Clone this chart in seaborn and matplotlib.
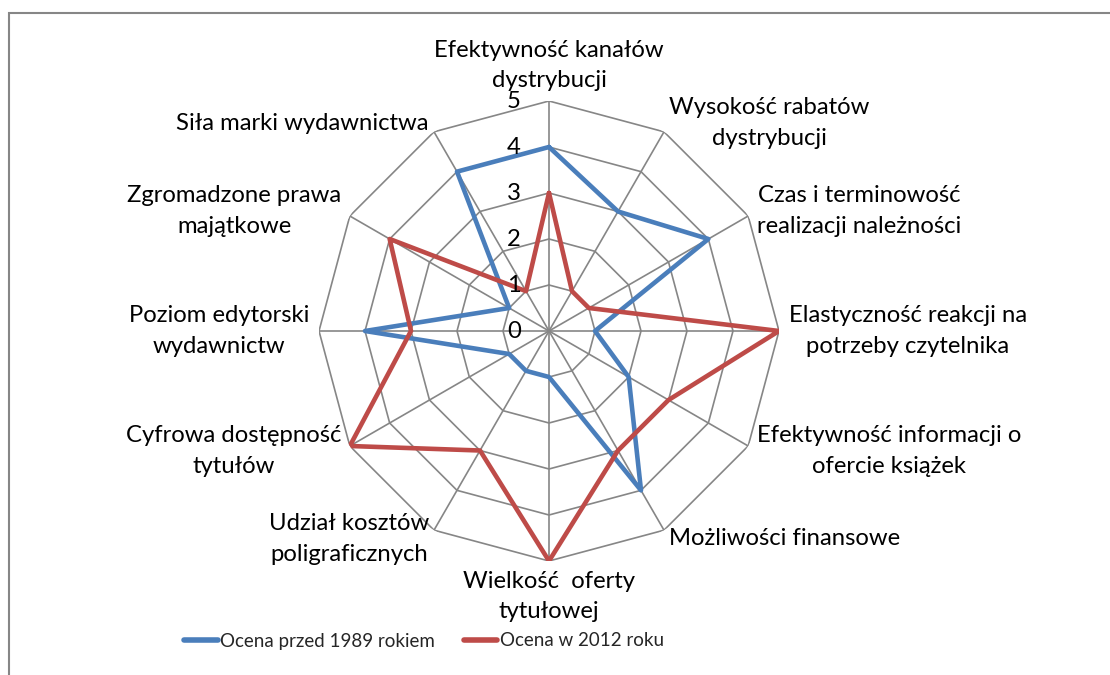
import numpy as np
import pandas as pd
import matplotlib
matplotlib.use("Agg")
import matplotlib.pyplot as plt
from matplotlib.patches import Rectangle
import seaborn as sns

categories = [
    "Efektywność kanałów\ndystrybucji",
    "Wysokość rabatów\ndystrybucji",
    "Czas i terminowość\nrealizacji należności",
    "Elastyczność reakcji na\npotrzeby czytelnika",
    "Efektywność informacji o\nofercie książek",
    "Możliwości finansowe",
    "Wielkość  oferty\ntytułowej",
    "Udział kosztów\npoligraficznych",
    "Cyfrowa dostępność\ntytułów",
    "Poziom edytorski\nwydawnictw",
    "Zgromadzone prawa\nmajątkowe",
    "Siła marki wydawnictwa",
]
series_names = ["Ocena przed 1989 rokiem", "Ocena w 2012 roku"]
before_1989 = [4, 3, 4, 1, 2, 4, 1, 1, 1, 4, 1, 4]
in_2012 = [3, 1, 1, 5, 3, 3, 5, 3, 5, 3, 4, 1]
r_ticks = [0, 1, 2, 3, 4, 5]

colors = {"Ocena przed 1989 rokiem": "#4A7EBB", "Ocena w 2012 roku": "#BE4B48"}
grid_color = "#868686"

sns.set_theme(style="white")
plt.rcParams["font.family"] = ["Lato", "DejaVu Sans"]
FS = 17.2
LEG_FS = 13.5

n = len(categories)
thetas = np.linspace(0, 2 * np.pi, n, endpoint=False)

rows = []
for name, vals in zip(series_names, [before_1989, in_2012]):
    for i in range(n + 1):
        rows.append({"theta": (thetas[i % n] if i < n else 2 * np.pi),
                     "value": vals[i % n], "series": name, "order": i})
df = pd.DataFrame(rows)

fig = plt.figure(figsize=(11.1, 6.75), dpi=100)
ax = fig.add_axes([(549 - 230) / 1110, (675 - 331 - 230) / 675, 460 / 1110, 460 / 675],
                  projection="polar")
ax.set_theta_zero_location("N")
ax.set_theta_direction(-1)

# polygon grid
closed = np.append(thetas, thetas[0])
for r in r_ticks[1:]:
    ax.plot(closed, [r] * (n + 1), color=grid_color, lw=1.2, zorder=1)
for t in thetas:
    ax.plot([t, t], [0, r_ticks[-1]], color=grid_color, lw=1.2, zorder=1)

sns.lineplot(data=df, x="theta", y="value", hue="series", sort=False, estimator=None,
             palette=colors, linewidth=3.3, ax=ax, zorder=3)

ax.set_ylim(0, 5)
ax.axis("off")

# tick labels
for r in r_ticks:
    ax.annotate(str(r), xy=(0, r), xytext=(-28, 0), textcoords="offset pixels",
                ha="right", va="center", fontsize=FS, color="black")

# category labels
off = 10
for t, lab in zip(thetas, categories):
    s, c = np.sin(t), np.cos(t)
    if abs(s) < 1e-6:
        ha = "center"
        va = "bottom" if c > 0 else "top"
    else:
        ha = "left" if s > 0 else "right"
        va = "center"
    ax.annotate(lab, xy=(t, 5), xytext=(off * s, off * c), textcoords="offset pixels",
                ha=ha, va=va, multialignment="center", fontsize=FS, linespacing=1.55,
                color="black", annotation_clip=False)

handles, labels = ax.get_legend_handles_labels()
if ax.get_legend() is not None:
    ax.get_legend().remove()
for h in handles:
    h.set_linewidth(4)
fig.legend(handles, labels, loc="center", bbox_to_anchor=(424 / 1110, 1 - 641 / 675),
           ncol=2, frameon=False, fontsize=LEG_FS, handlelength=1.8, handletextpad=0.15,
           columnspacing=1.5, borderpad=0, borderaxespad=0)

# chart area border
fig.patches.append(Rectangle((8.5 / 1110, -0.1), 1.2, 0.1 + 1 - 12.5 / 675,
                             transform=fig.transFigure, fill=False,
                             edgecolor="#868686", lw=1.5))

fig.savefig("out.png", dpi=100, facecolor="white")
